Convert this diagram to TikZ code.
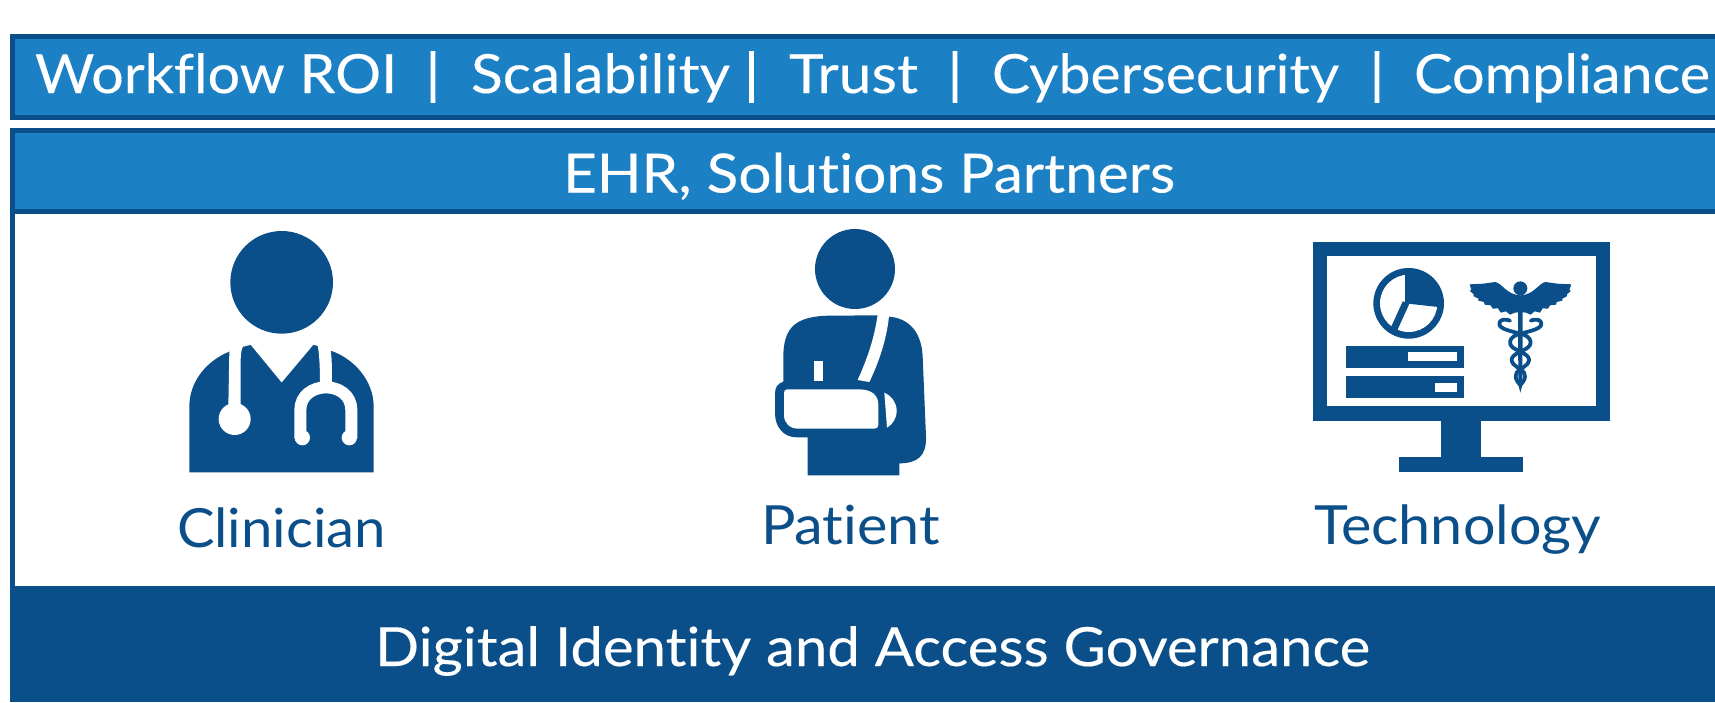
\documentclass[tikz,border=0pt]{standalone}
\usepackage{graphicx}
\usepackage{fontspec}
\setmainfont{Lato}[Ligatures=NoCommon,FakeBold=0.25]
\newfontfamily\sepfont{Lato}[FakeBold=1.6]
\newfontfamily\darkfont{Lato}[Ligatures=NoCommon]
\definecolor{darkb}{HTML}{0B4F8A}
\definecolor{midb}{HTML}{1C80C4}
\newcommand{\fitw}[2]{\resizebox{#1pt}{\height}{#2}}
\tikzset{
  lab/.style={inner sep=0pt,outer sep=0pt,anchor=base west,font=\fontsize{54}{60}\selectfont},
  wlab/.style={lab,text=white},
  dlab/.style={lab,text=darkb,font=\fontsize{54}{60}\darkfont},
  sep/.style={wlab,anchor=base,font=\fontsize{54}{60}\sepfont},
  ic/.style={x=0.33333pt,y=-0.33333pt},
  snake/.style={draw=darkb,line width=3.8pt,line cap=round,line join=round}
}
\begin{document}
\begin{tikzpicture}[x=1pt,y=-1pt]
\useasboundingbox (0,0) rectangle (1715,702);
\fill[white] (0,0) rectangle (1715,702);
% top band
\fill[darkb] (10,34) rectangle (1715,120);
\fill[midb] (15,39) rectangle (1715,115);
% second frame
\fill[darkb] (10,128) rectangle (1715,214);
\fill[midb] (15,133) rectangle (1715,209);
\fill[darkb] (10,214) rectangle (15,586);
\fill[darkb] (10,586) rectangle (1715,702);
% top labels
\node[wlab] (t1) at (35,93) {\fitw{362}{Workflow ROI}};
\node[sep] (s1) at (433,93) {|};
\node[wlab] (t2) at (471,93) {\fitw{259}{Scalability}};
\node[sep] (s2) at (751.5,93) {|};
\node[wlab] (t3) at (789,93) {\fitw{129}{Trust}};
\node[sep] (s3) at (955,93) {|};
\node[wlab] (t4) at (992,93) {\fitw{347}{Cybersecurity}};
\node[sep] (s4) at (1377,93) {|};
\node[wlab] (t5) at (1414,93) {\fitw{296}{Compliance}};
\node[wlab] (ehr) at (563,192.5) {\fitw{612}{EHR, Solutions Partners}};
\node[wlab] (gov) at (375,666) {\fitw{995}{Digital Identity and Access Governance}};
\node[dlab] (clin) at (177,547) {\fitw{209}{Clinician}};
\node[dlab] (pat) at (761,544) {\fitw{179}{Patient}};
\node[dlab] (tech) at (1314,544) {\fitw{287}{Technology}};
% clinician icon
\begin{scope}[ic,shift={(150pt,-210pt)}]
\fill[darkb] (395,217) circle[radius=154];
\fill[darkb] (118,787) -- (118,590) .. controls (118,510) and (175,450) .. (238,425)
  -- (272,412) -- (302,405) -- (395,518) -- (490,405) -- (505,408) -- (542,422)
  .. controls (610,445) and (671,510) .. (671,590) -- (671,787) -- cycle;
\fill[white] (238,425) -- (235,590) -- (272,590) -- (272,450) .. controls (272,430) and (275,415) .. (280,408) -- (268,402) -- cycle;
\fill[white] (254,627) circle[radius=48];
\fill[white] (502,400) .. controls (508,430) and (510,470) .. (510,525) -- (546,525) .. controls (546,480) and (546,450) .. (542,418) -- cycle;
\draw[white,line width=12pt] (451,685) -- (451,600) .. controls (451,555) and (490,532) .. (528,532) .. controls (566,532) and (604,555) .. (604,600) -- (604,685);
\fill[white] (457,683) circle[radius=23];
\fill[white] (598,683) circle[radius=23];
\end{scope}
% patient icon
\begin{scope}[ic,shift={(740pt,-210pt)}]
\fill[darkb] (345,177) circle[radius=120];
\fill[darkb] (130,515) -- (130,440) .. controls (130,350) and (170,318) .. (270,317)
  -- (413,316) -- (447,320) .. controls (510,325) and (545,370) .. (548,440)
  -- (558,680) .. controls (560,740) and (530,760) .. (478,760) -- (478,796) -- (203,796) -- (203,682)
  -- (170,682) .. controls (130,682) and (105,650) .. (105,610) -- (105,550) .. controls (105,530) and (115,520) .. (130,515) -- cycle;
\fill[white] (413,314) -- (447,318) .. controls (440,390) and (415,460) .. (388,516) -- (353,510) .. controls (380,450) and (402,390) .. (413,314) -- cycle;
\fill[white] (222,452) rectangle (249,512);
\fill[white] (132,548) .. controls (132,542) and (136,538) .. (142,538) -- (355,538)
  .. controls (395,538) and (415,555) .. (415,585) -- (415,645) .. controls (415,652) and (410,656) .. (403,656)
  -- (175,656) .. controls (150,656) and (132,640) .. (132,615) -- cycle;
\fill[white] (433,548) .. controls (455,558) and (470,578) .. (470,602) .. controls (470,625) and (458,643) .. (441,653) -- cycle;
\end{scope}
% technology icon
\begin{scope}[ic,shift={(1290pt,-230pt)}]
\fill[darkb] (68,36) rectangle (960,572);
\fill[white] (110,78) rectangle (918,527);
\fill[darkb] (453,572) rectangle (574,682);
\fill[darkb] (326,682) rectangle (700,725);
\fill[darkb] (356,220) circle[radius=106];
\fill[white] (356,220) circle[radius=86];
\begin{scope}
\clip (356,220) circle[radius=100];
\fill[darkb] (345,100) -- (345,220) -- (445,231) -- (480,235) -- (480,100) -- cycle;
\end{scope}
\draw[darkb,line width=7pt] (348,218) -- (312,297);
\fill[darkb] (169,347) rectangle (521,413);
\fill[white] (355,367) rectangle (501,393);
\fill[darkb] (169,439) rectangle (521,504);
\fill[white] (434,459) rectangle (501,485);
\end{scope}
% caduceus
\begin{scope}[ic,shift={(1460pt,-270pt)}]
\fill[darkb] (181,55) circle[radius=21];
\fill[darkb] (29,43) -- (70,41) -- (105,36) .. controls (125,38) and (140,75) .. (181,76)
  .. controls (222,75) and (237,38) .. (257,36) -- (292,41) -- (334,43)
  -- (328,60) -- (333,62) -- (320,74) -- (322,78) -- (307,86) -- (307,92) -- (290,96) -- (288,104) -- (270,106) -- (264,116) -- (248,115) -- (240,128) -- (224,124) -- (212,134) -- (198,128) -- (181,126)
  -- (164,128) -- (150,134) -- (138,124) -- (122,128) -- (114,115) -- (98,116) -- (92,106) -- (74,104) -- (72,96) -- (55,92) -- (55,86) -- (40,78) -- (42,74) -- (29,62) -- (34,60) -- cycle;
\fill[darkb] (174,110) -- (188,110) -- (187,345) -- (181,368) -- (175,345) -- cycle;
\draw[snake] (150,152) .. controls (130,145) and (118,150) .. (118,162) .. controls (118,178) and (160,185) .. (185,192) .. controls (215,200) and (222,225) .. (195,238) .. controls (165,252) and (145,262) .. (160,282) .. controls (172,296) and (197,300) .. (195,320) .. controls (194,332) and (185,340) .. (181,345);
\draw[snake] (212,152) .. controls (232,145) and (244,150) .. (244,162) .. controls (244,178) and (202,185) .. (177,192) .. controls (147,200) and (140,225) .. (167,238) .. controls (197,252) and (217,262) .. (202,282) .. controls (190,296) and (165,300) .. (167,320) .. controls (168,332) and (177,340) .. (181,345);
\end{scope}
\end{tikzpicture}
\end{document}
